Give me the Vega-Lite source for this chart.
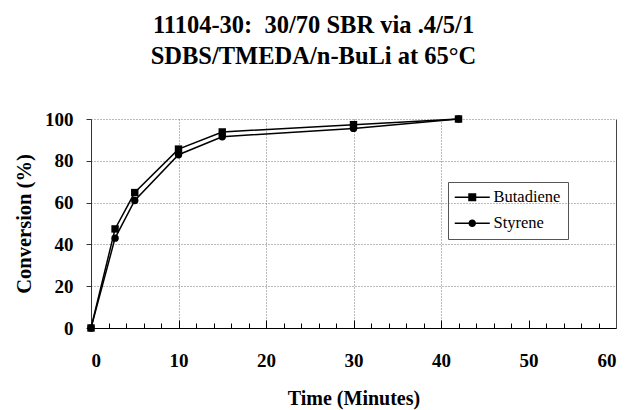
{
  "$schema": "https://vega.github.io/schema/vega-lite/v6.json",
  "width": 525,
  "height": 209,
  "autosize": {"type": "none"},
  "padding": {"left": 91, "top": 119, "right": 13, "bottom": 82},
  "background": "white",
  "title": {
    "text": ["11104-30:\u00a0 30/70 SBR via .4/5/1", "SDBS/TMEDA/n-BuLi at 65°C"],
    "font": "Liberation Serif",
    "fontSize": 24.5,
    "fontWeight": "bold",
    "color": "black",
    "anchor": "middle",
    "frame": "group",
    "dx": -40,
    "offset": 41,
    "lineHeight": 31
  },
  "config": {"view": {"stroke": null}, "font": "Liberation Serif"},
  "data": {
    "values": [
      {"time": 0, "conv": 0, "series": "Butadiene"},
      {"time": 2.75, "conv": 47.4, "series": "Butadiene"},
      {"time": 5, "conv": 64.8, "series": "Butadiene"},
      {"time": 10, "conv": 85.6, "series": "Butadiene"},
      {"time": 15, "conv": 93.8, "series": "Butadiene"},
      {"time": 30, "conv": 97.3, "series": "Butadiene"},
      {"time": 42, "conv": 100, "series": "Butadiene"},
      {"time": 0, "conv": 0, "series": "Styrene"},
      {"time": 2.75, "conv": 43, "series": "Styrene"},
      {"time": 5, "conv": 61, "series": "Styrene"},
      {"time": 10, "conv": 82.9, "series": "Styrene"},
      {"time": 15, "conv": 91.5, "series": "Styrene"},
      {"time": 30, "conv": 95.5, "series": "Styrene"},
      {"time": 42, "conv": 100, "series": "Styrene"}
    ]
  },
  "layer": [
    {
      "mark": {"type": "point", "filled": true, "color": "black", "opacity": 0},
      "encoding": {
        "x": {
          "field": "time", "type": "quantitative",
          "scale": {"domain": [0, 60], "nice": false, "zero": false},
          "axis": {"orient": "bottom", "values": [10, 20, 30, 40], "grid": true, "gridColor": "#777", "gridDash": [1, 2], "gridWidth": 1, "ticks": false, "labels": false, "domain": false, "title": null}
        },
        "y": {
          "field": "conv", "type": "quantitative",
          "scale": {"domain": [0, 100], "nice": false},
          "axis": {"orient": "left", "values": [20, 40, 60, 80, 100], "grid": true, "gridColor": "#777", "gridDash": [1, 2], "gridWidth": 1, "ticks": false, "labels": false, "domain": true, "domainColor": "#333", "title": null}
        },
        "shape": {
          "field": "series", "type": "nominal",
          "scale": {"range": [
            "M-3.5,-0.13L3.5,-0.13L3.5,0.13L-3.5,0.13ZM-0.8,-0.8L0.8,-0.8L0.8,0.8L-0.8,0.8Z",
            "M-3.5,-0.13L3.5,-0.13L3.5,0.13L-3.5,0.13ZM0.75,0A0.75,0.75,0,1,1,-0.75,0A0.75,0.75,0,1,1,0.75,0Z"
          ]},
          "legend": {
            "title": null,
            "orient": "none",
            "legendX": 357,
            "legendY": 63,
            "strokeColor": "#555",
            "padding": 7,
            "symbolSize": 100,
            "symbolFillColor": "black",
            "symbolStrokeColor": "black",
            "symbolStrokeWidth": 0,
            "symbolOpacity": 1,
            "symbolOffset": 9,
            "labelOffset": 13,
            "labelFont": "Liberation Serif",
            "labelFontSize": 16.5,
            "labelColor": "black",
            "rowPadding": 9,
            "encode": {
              "symbols": {
                "update": {
                  "fill": {"value": "black"},
                  "opacity": {"value": 1}
                }
              }
            }
          }
        }
      }
    },
    {
      "mark": {"type": "line", "color": "black", "strokeWidth": 1.5},
      "encoding": {
        "x": {
          "field": "time", "type": "quantitative",
          "axis": {
            "orient": "bottom",
            "values": [0, 10, 20, 30, 40, 50, 60],
            "grid": false,
            "tickSize": -8,
            "tickColor": "black",
            "domainColor": "black",
            "labelFont": "Liberation Serif",
            "labelFontSize": 19,
            "labelFontWeight": "bold",
            "labelColor": "black",
            "labelPadding": 31,
            "title": "Time (Minutes)",
            "titleFont": "Liberation Serif",
            "titleFontSize": 20,
            "titleFontWeight": "bold",
            "titleColor": "black",
            "titlePadding": 18
          }
        },
        "y": {
          "field": "conv", "type": "quantitative",
          "axis": {
            "orient": "left",
            "values": [0, 20, 40, 60, 80, 100],
            "grid": false,
            "domain": false,
            "tickSize": 5,
            "tickColor": "#333",
            "labelFont": "Liberation Serif",
            "labelFontSize": 19,
            "labelFontWeight": "bold",
            "labelColor": "black",
            "labelPadding": 13,
            "title": "Conversion (%)",
            "titleFont": "Liberation Serif",
            "titleFontSize": 20.5,
            "titleFontWeight": "bold",
            "titleColor": "black",
            "titlePadding": 10
          }
        },
        "detail": {"field": "series", "type": "nominal"}
      }
    },
    {
      "mark": {"type": "point", "filled": true, "opacity": 1, "color": "black", "size": 55},
      "encoding": {
        "x": {
          "field": "time", "type": "quantitative",
          "axis": {
            "orient": "bottom",
            "values": [2, 4, 6, 8, 12, 14, 16, 18, 22, 24, 26, 28, 32, 34, 36, 38, 42, 44, 46, 48, 52, 54, 56, 58],
            "grid": false, "labels": false, "domain": false, "tickSize": -5, "tickColor": "black", "title": null
          }
        },
        "y": {
          "field": "conv", "type": "quantitative",
          "axis": {"orient": "right", "labels": false, "ticks": false, "grid": false, "domain": true, "domainColor": "#444", "title": null}
        },
        "shape": {
          "field": "series", "type": "nominal",
          "scale": {"range": ["square", "circle"]},
          "legend": null
        }
      }
    }
  ],
  "resolve": {
    "axis": {"x": "independent", "y": "independent"},
    "scale": {"shape": "independent"}
  }
}
